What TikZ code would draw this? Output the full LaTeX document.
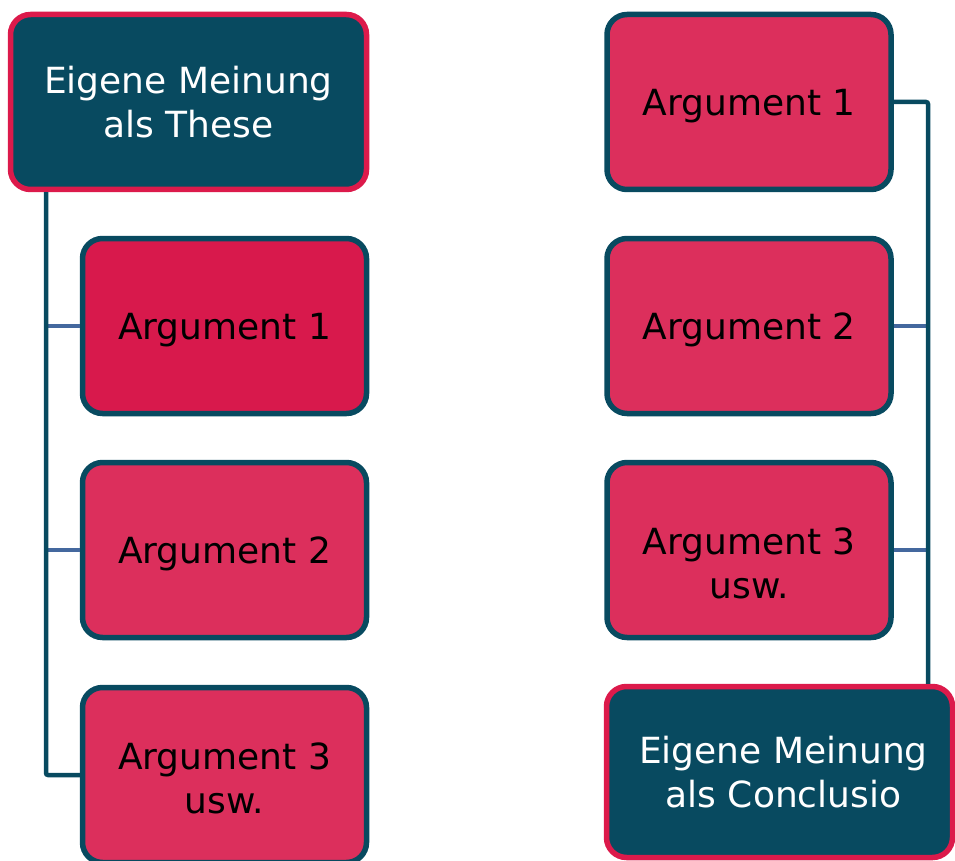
\documentclass[tikz,border=0pt]{standalone}
\usepackage{fontspec}
\setmainfont{DejaVu Sans}
\usepackage{tikz}
\usetikzlibrary{calc}

\definecolor{petrol}{HTML}{084A60}
\definecolor{crimsonrand}{HTML}{DC1A4B}
\definecolor{crimsondunkel}{HTML}{D8194C}
\definecolor{rosarot}{HTML}{DC2F5C}
\definecolor{stahlblau}{HTML}{44689E}

\tikzset{
  argbox/.style={draw=petrol, fill=rosarot, line width=5.5pt, rounded corners=20pt,
    minimum width=284pt, minimum height=175pt, inner sep=0pt, align=center,
    text depth=0pt, text=black, font=\fontsize{36}{44}\selectfont},
  meinungbox/.style={argbox, draw=crimsonrand, fill=petrol, text=white,
    minimum width=356pt},
  trunk/.style={draw=petrol, line width=4.5pt, rounded corners=2pt},
  branch/.style={draw=stahlblau, line width=4.5pt},
}

\begin{document}
\begin{tikzpicture}[x=1pt,y=-1pt]
    \useasboundingbox (0,0) rectangle (955,861);
    % Vertical lines of both columns
    \coordinate (TL) at (46,0);  % left trunk
    \coordinate (TR) at (928,0); % right trunk
    % Left column: thesis first
    \node[meinungbox] (these) at (188.5,102) {Eigene Meinung\\als These};
    \node[argbox, fill=crimsondunkel] (la1) at (224.5,326) {Argument 1};
    \node[argbox] (la2) at (224.5,550) {Argument 2};
    \node[argbox, text height=76pt] (la3) at (224.5,775) {Argument 3\\usw.};
    % Right column: conclusion last
    \node[argbox] (ra1) at (749,102) {Argument 1};
    \node[argbox] (ra2) at (749,326) {Argument 2};
    \node[argbox, text height=96pt] (ra3) at (749,550) {Argument 3\\usw.};
    \node[meinungbox, minimum width=346pt, minimum height=171pt] (concl) at (779.5,772) {\hspace*{8pt}Eigene Meinung\\\hspace*{8pt}als Conclusio};
    \draw[branch] (la1.west -| TL) -- (la1.west);
    \draw[branch] (la2.west -| TL) -- (la2.west);
    \draw[branch] (ra2.east) -- (ra2.east -| TR);
    \draw[branch] (ra3.east) -- (ra3.east -| TR);
    \draw[trunk] (these.south -| TL) |- (la3.west);
    \draw[trunk] (ra1.east) -| (concl.north -| TR);
\end{tikzpicture}
\end{document}
